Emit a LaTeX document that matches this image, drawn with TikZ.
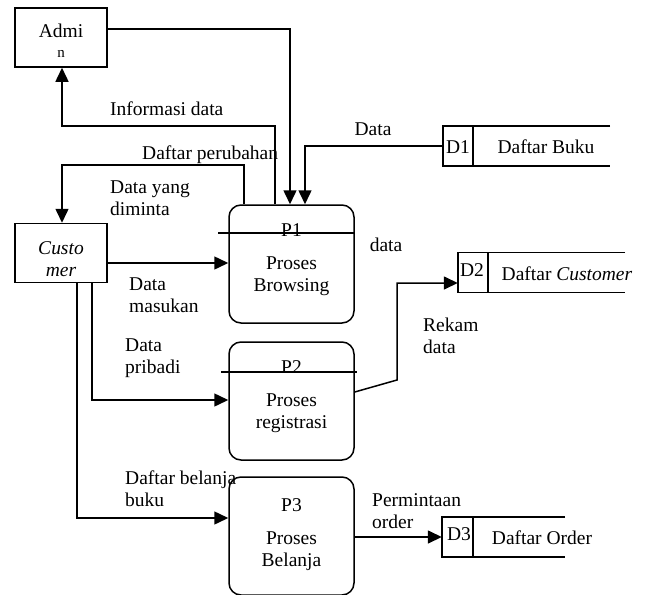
\documentclass[tikz,border=0pt]{standalone}
\usepackage{fontspec}
\setmainfont{Liberation Serif}
\usetikzlibrary{arrows.meta}
\begin{document}
\begin{tikzpicture}[x=1pt,y=-1pt,
  every node/.style={font=\fontsize{19.5}{22}\selectfont, inner sep=0pt},
  ent/.style={draw, line width=1.5pt, minimum width=92pt, minimum height=59pt, align=center},
  proc/.style={draw, line width=1.5pt, rounded corners=12pt, minimum width=125pt, minimum height=118pt},
  store/.style={minimum width=167pt, minimum height=40pt},
  lbl/.style={align=left, anchor=west},
  ctr/.style={align=center},
  ln/.style={line width=1.5pt},
  arr/.style={line width=1.5pt, -{Triangle[length=14pt,width=13pt]}}]
\useasboundingbox (0,0) rectangle (646,595);

% entities
\node[ent] (admin) at (61,37.5) {};
\node[ctr] (admintxt) at (61,41) {Admi\\[-2pt]{\fontsize{15}{15}\selectfont n}};
\node[ent] (cust) at (61,253) {};
\node[ctr] (custtxt) at (61,259) {\itshape Custo\\\itshape mer};

% processes
\node[proc] (p1) at (291.5,264) {};
\draw[ln] (218,233) -- (p1.east |- 0,233);
\node (p1id) at (291.5,230) {P1};
\node[ctr] (p1txt) at (291.5,276) {Proses\\Browsing};

\node[proc] (p2) at (291.5,401) {};
\draw[ln] (221,372) -- (357,372);
\node (p2id) at (291.5,367) {P2};
\node[ctr] (p2txt) at (291.5,413) {Proses\\registrasi};

\node[proc] (p3) at (291.5,536) {};
\node (p3id) at (291.5,505) {P3};
\node[ctr] (p3txt) at (291.5,551) {Proses\\Belanja};

% data stores
\node[store] (d1) at (526.5,146) {};
\draw[ln] (d1.north east) -- (d1.north west) -- (d1.south west) -- (d1.south east);
\draw[ln] (473,126) -- (473,166);
\node (d1id) at (458,147) {D1};
\node (d1txt) at (546,147) {Daftar Buku};

\node[store] (d2) at (541.5,272.5) {};
\draw[ln] (d2.north east) -- (d2.north west) -- (d2.south west) -- (d2.south east);
\draw[ln] (488,252) -- (488,293);
\node (d2id) at (472,270) {D2};
\node (d2txt) at (567,274) {Daftar \textit{Customer}};

\node[store, minimum width=123pt] (d3) at (503.5,537) {};
\draw[ln] (d3.north east) -- (d3.north west) -- (d3.south west) -- (d3.south east);
\draw[ln] (473,517) -- (473,557);
\node (d3id) at (459,534) {D3};
\node (d3txt) at (542,538) {Daftar Order};

% connectors
\draw[arr] (admin.east |- 0,29) -- (290,29) -- (p1.north -| 290,0);
\draw[arr] (p1.north -| 275,0) -- (275,126) -- (62,126) -- (admin.south -| 62,0);
\draw[arr] (p1.north -| 244,0) -- (244,165) -- (62,165) -- (cust.north -| 62,0);
\draw[arr] (d1.west) -- (305,146) -- (p1.north -| 305,0);
\draw[arr] (cust.east |- 0,263) -- (p1.west |- 0,263);
\draw[arr] (cust.south -| 92,0) -- (92,400) -- (p2.west |- 0,400);
\draw[arr] (cust.south -| 77,0) -- (77,518) -- (p3.west |- 0,518);
\draw[arr] (p2.east |- 0,392) -- (397,380) -- (397,283) -- (d2.west |- 0,283);
\draw[arr] (p3.east |- 0,537) -- (d3.west |- 0,537);

% labels
\node[lbl] (l1) at (110,109) {Informasi data};
\node[lbl] (l2) at (142,155) {Daftar perubahan};
\node[lbl] (l3) at (110,198) {Data yang\\diminta};
\node (l4) at (373,129) {Data};
\node (l5) at (386,245) {data};
\node[lbl] (l6) at (129,295) {Data\\masukan};
\node[lbl] (l7) at (125,358) {Data\\pribadi};
\node[lbl] (l8) at (423,336) {Rekam\\data};
\node[lbl] (l9) at (125,489) {Daftar belanja\\buku};
\node[lbl] (l10) at (372,511) {Permintaan\\order};
\end{tikzpicture}
\end{document}
